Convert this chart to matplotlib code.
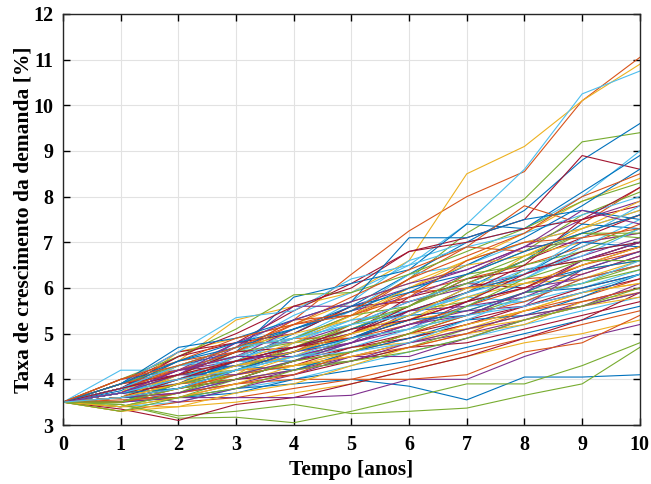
import matplotlib
matplotlib.use('Agg')
import matplotlib.pyplot as plt

# years of the simulation
years = [0, 1, 2, 3, 4, 5, 6, 7, 8, 9, 10]

# simulated demand growth paths [%]
paths = [
    [3.5, 3.8, 4.2, 4.6, 5.3, 6.3, 7.25, 8.0, 8.55, 10.1, 11.05],
    [3.5, 3.9, 4.4, 5.3, 5.6, 5.9, 6.6, 8.5, 9.1, 10.1, 10.9],
    [3.5, 3.8, 4.3, 4.7, 5.4, 5.9, 6.5, 7.4, 8.6, 10.25, 10.75],
    [3.5, 3.7, 4.1, 4.6, 5.1, 5.5, 6.2, 7.2, 7.95, 9.2, 9.4],
    [3.5, 3.6, 4.0, 4.4, 5.0, 5.6, 6.3, 7.0, 7.7, 8.8, 9.6],
    [3.5, 4.2, 4.2, 4.6, 5.0, 5.7, 6.6, 7.0, 7.3, 8.0, 9.0],
    [3.5, 3.9, 4.5, 4.8, 5.5, 6.1, 6.8, 7.1, 7.5, 8.9, 8.6],
    [3.5, 3.75, 4.3, 4.6, 5.8, 6.1, 6.4, 7.4, 7.3, 8.1, 8.9],
    [3.5, 3.6, 3.9, 4.5, 4.9, 5.4, 6.2, 6.9, 7.8, 7.4, 8.2],
    [3.5, 3.7, 4.6, 4.9, 5.2, 5.7, 6.1, 6.6, 7.2, 7.9, 8.4],
    [3.5, 3.8, 4.1, 4.7, 5.6, 5.6, 6.0, 6.4, 6.9, 7.5, 7.9],
    [3.5, 3.4, 3.7, 4.2, 4.6, 5.1, 5.6, 6.3, 6.8, 7.6, 8.1],
    [3.5, 3.9, 4.3, 4.4, 4.9, 5.5, 6.3, 6.5, 7.0, 7.3, 7.7],
    [3.5, 3.6, 4.0, 4.3, 4.7, 5.0, 5.8, 6.1, 6.6, 7.1, 7.6],
    [3.5, 3.7, 3.9, 4.4, 4.4, 4.9, 5.4, 6.0, 6.6, 7.4, 7.3],
    [3.5, 3.8, 4.4, 4.6, 5.3, 5.4, 5.9, 6.2, 6.5, 6.9, 7.4],
    [3.5, 3.5, 3.8, 4.1, 4.5, 5.0, 5.3, 5.9, 6.7, 7.0, 7.2],
    [3.5, 4.0, 4.2, 4.8, 4.8, 5.2, 5.7, 6.0, 6.3, 6.7, 7.1],
    [3.5, 3.6, 4.1, 4.2, 4.6, 5.0, 5.5, 5.7, 6.4, 6.6, 7.0],
    [3.5, 3.7, 4.0, 4.5, 4.9, 5.3, 5.4, 5.9, 6.2, 6.8, 7.0],
    [3.5, 3.9, 4.6, 4.8, 5.0, 5.6, 5.7, 6.1, 6.0, 6.5, 6.9],
    [3.5, 3.5, 3.7, 4.0, 4.4, 4.8, 5.2, 5.6, 6.1, 6.4, 6.8],
    [3.5, 3.8, 4.0, 4.4, 4.6, 5.2, 5.9, 6.0, 6.2, 6.3, 6.7],
    [3.5, 3.6, 3.9, 4.1, 4.8, 4.9, 5.3, 5.5, 5.9, 6.4, 6.6],
    [3.5, 3.7, 4.2, 4.3, 4.5, 4.8, 5.1, 5.7, 6.0, 6.2, 6.5],
    [3.5, 3.4, 3.6, 4.0, 4.2, 4.6, 5.0, 5.4, 5.8, 6.1, 6.5],
    [3.5, 3.9, 4.3, 4.5, 4.7, 5.0, 5.5, 5.8, 5.7, 6.0, 6.4],
    [3.5, 3.6, 3.8, 4.2, 4.3, 4.7, 5.0, 5.3, 5.6, 6.0, 6.3],
    [3.5, 3.7, 4.1, 4.3, 4.6, 4.9, 5.4, 5.5, 5.9, 6.0, 6.3],
    [3.5, 3.5, 3.9, 4.0, 4.4, 4.6, 4.9, 5.2, 5.5, 5.8, 6.2],
    [3.5, 3.8, 4.0, 4.2, 4.5, 4.7, 4.8, 5.1, 5.5, 5.9, 6.1],
    [3.5, 3.6, 3.7, 3.9, 4.2, 4.5, 4.8, 5.0, 5.3, 5.7, 6.0],
    [3.5, 3.7, 3.9, 4.1, 4.3, 4.4, 4.7, 5.1, 5.4, 5.6, 5.9],
    [3.5, 3.4, 3.5, 3.8, 4.0, 4.3, 4.6, 4.9, 5.2, 5.5, 5.8],
    [3.5, 3.6, 3.8, 4.0, 4.1, 4.4, 4.7, 4.8, 5.1, 5.4, 5.7],
    [3.5, 3.5, 3.6, 3.7, 4.0, 4.2, 4.4, 4.7, 5.0, 5.3, 5.6],
    [3.5, 3.3, 3.5, 3.6, 3.8, 4.0, 4.3, 4.6, 4.9, 5.2, 5.5],
    [3.5, 3.4, 3.4, 3.5, 3.7, 3.9, 4.2, 4.5, 4.8, 5.0, 5.3],
    [3.5, 3.6, 3.6, 3.8, 3.9, 4.0, 3.85, 3.55, 4.05, 4.05, 4.1],
    [3.5, 3.45, 3.15, 3.17, 3.05, 3.3, 3.6, 3.9, 3.9, 4.3, 4.8],
    [3.5, 3.45, 3.2, 3.3, 3.45, 3.25, 3.3, 3.37, 3.65, 3.9, 4.7],
    [3.5, 3.35, 3.1, 3.45, 3.6, 3.9, 4.2, 4.5, 4.9, 5.3, 5.9],
    [3.5, 3.5, 3.6, 3.6, 3.6, 3.65, 4.0, 4.0, 4.5, 4.9, 5.2],
    [3.5, 3.55, 3.6, 3.9, 4.0, 4.0, 4.0, 4.1, 4.6, 4.8, 5.4],
    [3.5, 3.3, 3.4, 3.7, 3.9, 4.3, 4.7, 5.0, 5.2, 5.7, 5.9],
    [3.5, 3.7, 3.5, 3.8, 4.1, 4.5, 4.5, 4.9, 5.3, 5.6, 6.1],
    [3.5, 4.0, 4.5, 5.1, 5.85, 5.9, 6.3, 6.8, 7.3, 7.9, 8.3],
    [3.5, 3.9, 4.6, 5.35, 5.5, 6.2, 6.5, 6.9, 7.2, 7.6, 8.0],
    [3.5, 3.8, 4.5, 5.0, 5.6, 6.0, 6.8, 7.0, 7.3, 7.5, 7.8],
    [3.5, 3.9, 4.7, 4.9, 5.3, 5.7, 7.1, 7.1, 7.5, 7.7, 7.5],
    [3.5, 4.0, 4.4, 4.9, 5.2, 5.8, 6.4, 6.9, 6.8, 7.2, 7.6],
    [3.5, 3.7, 4.3, 4.7, 5.0, 5.3, 6.0, 6.6, 7.0, 7.3, 7.7],
    [3.5, 3.8, 4.2, 4.5, 5.1, 5.5, 5.8, 6.3, 6.9, 7.0, 7.2],
    [3.5, 3.6, 4.1, 4.6, 4.8, 5.1, 5.6, 6.3, 6.5, 6.8, 7.3],
    [3.5, 3.7, 4.0, 4.3, 4.8, 5.3, 5.5, 5.8, 6.2, 6.9, 7.5],
    [3.5, 3.9, 4.1, 4.6, 4.7, 5.0, 5.6, 6.2, 6.4, 6.6, 7.0],
    [3.5, 3.5, 3.9, 4.4, 4.7, 5.1, 5.5, 5.9, 6.3, 7.0, 6.9],
    [3.5, 3.8, 4.2, 4.5, 4.9, 4.9, 5.2, 5.6, 6.0, 6.5, 6.8],
    [3.5, 3.6, 3.9, 4.3, 4.5, 5.0, 5.3, 5.8, 6.1, 6.2, 6.6],
    [3.5, 3.7, 4.2, 4.4, 4.6, 4.8, 5.5, 5.6, 5.8, 6.3, 6.7],
    [3.5, 3.4, 3.7, 4.1, 4.4, 4.9, 5.1, 5.4, 5.9, 6.1, 6.4],
    [3.5, 3.8, 3.9, 4.2, 4.5, 4.7, 5.1, 5.6, 5.7, 6.2, 6.5],
    [3.5, 3.6, 3.8, 4.0, 4.4, 4.7, 4.9, 5.2, 5.6, 5.9, 6.2],
    [3.5, 3.7, 4.0, 4.3, 4.2, 4.6, 4.9, 5.3, 5.4, 5.8, 6.3],
    [3.5, 3.5, 3.8, 4.1, 4.3, 4.5, 4.7, 5.0, 5.5, 5.7, 6.0],
    [3.5, 3.6, 4.0, 4.2, 4.3, 4.6, 5.0, 5.1, 5.3, 5.6, 5.8],
    [3.5, 3.8, 4.1, 4.1, 4.4, 4.8, 5.2, 5.5, 5.6, 6.4, 6.8],
    [3.5, 3.9, 4.3, 4.7, 4.9, 5.4, 5.6, 6.2, 6.7, 7.2, 7.1],
    [3.5, 3.6, 4.0, 4.5, 4.9, 5.2, 5.7, 6.1, 6.3, 7.1, 7.8],
    [3.5, 3.7, 3.9, 4.2, 4.6, 5.0, 5.5, 5.9, 6.5, 7.5, 8.2],
    [3.5, 3.8, 4.4, 4.7, 5.1, 5.6, 5.9, 6.5, 7.1, 7.8, 8.6],
    [3.5, 3.9, 4.2, 4.6, 5.2, 5.5, 6.2, 6.7, 7.2, 8.0, 8.5],
    [3.5, 3.6, 4.1, 4.4, 4.8, 5.4, 6.0, 6.5, 6.7, 7.3, 7.9],
    [3.5, 3.7, 4.1, 4.8, 5.3, 5.7, 6.1, 6.4, 6.9, 7.7, 7.4],
    [3.5, 3.5, 3.9, 4.2, 4.7, 5.2, 5.6, 6.1, 6.6, 7.2, 7.2],
    [3.5, 3.8, 4.3, 4.7, 4.9, 5.2, 5.4, 5.9, 6.4, 6.7, 7.3],
    [3.5, 3.6, 4.0, 4.4, 4.7, 4.9, 5.3, 5.7, 6.0, 6.6, 6.9],
    [3.5, 3.7, 3.8, 4.2, 4.6, 4.9, 5.3, 5.4, 5.9, 6.4, 6.6],
    [3.5, 3.5, 3.7, 3.9, 4.1, 4.6, 5.0, 5.4, 5.7, 6.2, 6.5],
    [3.5, 3.4, 3.6, 3.9, 4.3, 4.5, 4.8, 5.2, 5.5, 5.9, 6.1],
    [3.5, 3.6, 3.7, 4.0, 4.2, 4.4, 4.8, 5.1, 5.4, 5.6, 5.9],
    [3.5, 3.3, 3.6, 3.8, 4.2, 4.4, 4.6, 4.9, 5.3, 5.6, 6.0],
    [3.5, 3.7, 4.0, 4.2, 4.5, 4.6, 4.8, 5.3, 5.8, 6.1, 6.6],
    [3.5, 3.8, 4.1, 4.4, 4.7, 5.1, 5.3, 5.7, 6.3, 6.8, 7.0],
    [3.5, 3.9, 4.4, 4.8, 5.1, 5.5, 6.0, 6.3, 6.8, 7.2, 7.6],
    [3.5, 4.0, 4.3, 4.7, 5.2, 5.4, 5.8, 6.6, 7.0, 7.1, 7.3],
    [3.5, 3.6, 3.9, 4.3, 4.6, 5.0, 5.4, 6.0, 6.1, 6.5, 6.9],
    [3.5, 3.7, 4.2, 4.5, 4.5, 4.8, 5.2, 5.4, 5.9, 6.6, 7.0],
    [3.5, 3.5, 3.8, 4.0, 4.4, 4.6, 5.0, 5.6, 6.2, 6.6, 6.6],
    [3.5, 3.6, 3.8, 4.2, 4.5, 4.9, 5.1, 5.4, 5.6, 5.9, 6.3],
]

# MATLAB default line colour order
colors = ['#0072BD', '#D95319', '#EDB120', '#7E2F8E', '#77AC30', '#4DBEEE', '#A2142F']

plt.rcParams['font.family'] = ['Liberation Serif', 'DejaVu Serif']
plt.rcParams['font.weight'] = 'bold'

fig = plt.figure(figsize=(6.51, 4.84), dpi=100)
ax = fig.add_axes([0.0968, 0.1219, 0.886, 0.8492])

# the extreme paths keep the colours they have in the picture
special = {0: '#D95319', 1: '#EDB120', 2: '#4DBEEE', 3: '#77AC30', 4: '#0072BD',
           38: '#0072BD', 39: '#77AC30', 40: '#77AC30', 41: '#A2142F', 42: '#7E2F8E'}
for i, p in enumerate(paths):
    c = special.get(i, colors[i % len(colors)])
    ax.plot(years, p, color=c, lw=0.8)

ax.set_xlim(0, 10)
ax.set_ylim(3, 12)
ax.set_xticks(years)
ax.set_yticks(range(3, 13))
ax.grid(True, color='#e2e2e2', lw=0.8)
ax.set_axisbelow(True)
ax.tick_params(direction='in', top=True, right=True, length=5, width=1, labelsize=14.5, pad=7)
for lab in ax.get_xticklabels() + ax.get_yticklabels():
    lab.set_fontweight('bold')
for s in ax.spines.values():
    s.set_linewidth(1.0)
    s.set_color('#262626')

ax.set_xlabel('Tempo [anos]', fontsize=15.5, fontweight='bold', labelpad=4)
ax.set_ylabel('Taxa de crescimento da demanda [%]', fontsize=15.5, fontweight='bold', labelpad=0)

fig.savefig('out.png', dpi=100)
